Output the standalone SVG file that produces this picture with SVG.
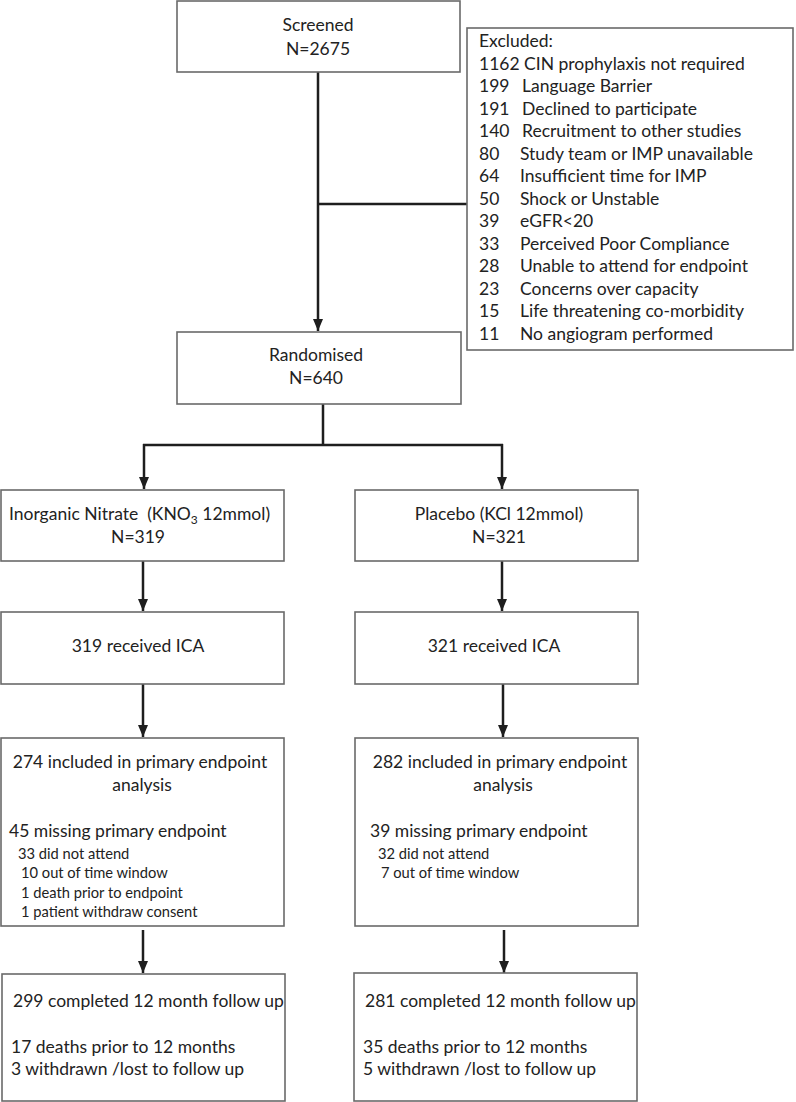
<svg xmlns="http://www.w3.org/2000/svg" width="796" height="1102" viewBox="0 0 796 1102">
<style>
.box{fill:#fff;stroke:#6a6a6a;stroke-width:1.6}
.t{font-family:Lato,"Open Sans","Liberation Sans",sans-serif;font-size:17.5px;fill:#222;white-space:pre}
.s{font-family:Lato,"Open Sans","Liberation Sans",sans-serif;font-size:14.7px;fill:#222;white-space:pre}
.m{text-anchor:middle}
.c{fill:none;stroke:#1e1e1e;stroke-width:2.5}
</style>
<defs>
<marker id="ad" markerUnits="userSpaceOnUse" markerWidth="11" markerHeight="12" viewBox="0 0 11 12" refX="5.5" refY="12">
<path d="M0.5,0 L10.5,0 L5.5,12 Z" fill="#1e1e1e"/>
</marker>
</defs>
<rect width="796" height="1102" fill="#fff"/>
<g id="connectors">
<path class="c" d="M318,72 V331" marker-end="url(#ad)"/>
<path class="c" d="M318,204 H467"/>
<path class="c" d="M323,404 V445 M143,445 H503"/>
<path class="c" d="M144,444 V489" marker-end="url(#ad)"/>
<path class="c" d="M502,444 V489" marker-end="url(#ad)"/>
<path class="c" d="M143,561 V611" marker-end="url(#ad)"/>
<path class="c" d="M502,561 V611" marker-end="url(#ad)"/>
<path class="c" d="M143,684 V737" marker-end="url(#ad)"/>
<path class="c" d="M503,684 V737" marker-end="url(#ad)"/>
<path class="c" d="M143,930 V973" marker-end="url(#ad)"/>
<path class="c" d="M504,930 V973" marker-end="url(#ad)"/>
</g>
<g id="screened">
<rect class="box" x="177" y="1" width="283" height="71"/>
<text class="t m" x="318" y="31">Screened</text>
<text class="t m" x="318" y="55">N=2675</text>
</g>
<g id="excluded">
<rect class="box" x="467" y="28" width="326" height="322"/>
<text class="t" x="479" y="47">Excluded:</text>
<text class="t" x="479" y="69.5">1162 CIN prophylaxis not required</text>
<text class="t" x="479" y="92">199</text><text class="t" x="522" y="92">Language Barrier</text>
<text class="t" x="479" y="114.5">191</text><text class="t" x="522" y="114.5">Declined to participate</text>
<text class="t" x="479" y="137">140</text><text class="t" x="522" y="137">Recruitment to other studies</text>
<text class="t" x="479" y="159.5">80</text><text class="t" x="520" y="159.5">Study team or IMP unavailable</text>
<text class="t" x="479" y="182">64</text><text class="t" x="520" y="182">Insufficient time for IMP</text>
<text class="t" x="479" y="204.5">50</text><text class="t" x="520" y="204.5">Shock or Unstable</text>
<text class="t" x="479" y="227">39</text><text class="t" x="520" y="227">eGFR&lt;20</text>
<text class="t" x="479" y="249.5">33</text><text class="t" x="520" y="249.5">Perceived Poor Compliance</text>
<text class="t" x="479" y="272">28</text><text class="t" x="520" y="272">Unable to attend for endpoint</text>
<text class="t" x="479" y="294.5">23</text><text class="t" x="520" y="294.5">Concerns over capacity</text>
<text class="t" x="479" y="317">15</text><text class="t" x="520" y="317">Life threatening co-morbidity</text>
<text class="t" x="479" y="339.5">11</text><text class="t" x="520" y="339.5">No angiogram performed</text>
</g>
<g id="randomised">
<rect class="box" x="177" y="332" width="284" height="72"/>
<text class="t m" x="316" y="361">Randomised</text>
<text class="t m" x="316" y="384">N=640</text>
</g>
<g id="nitrate">
<rect class="box" x="1" y="490" width="283" height="71"/>
<text class="t" x="9" y="520">Inorganic Nitrate  (KNO<tspan font-size="12" dy="4">3</tspan><tspan dy="-4"> 12mmol)</tspan></text>
<text class="t m" x="138" y="543">N=319</text>
</g>
<g id="placebo">
<rect class="box" x="355" y="490" width="283" height="71"/>
<text class="t m" x="499" y="520">Placebo (KCl 12mmol)</text>
<text class="t m" x="499" y="543">N=321</text>
</g>
<g id="ica-left">
<rect class="box" x="1" y="612" width="283" height="72"/>
<text class="t m" x="138" y="652">319 received ICA</text>
</g>
<g id="ica-right">
<rect class="box" x="355" y="612" width="283" height="72"/>
<text class="t m" x="494" y="652">321 received ICA</text>
</g>
<g id="primary-left">
<rect class="box" x="1" y="738" width="283" height="188"/>
<text class="t m" x="140" y="768">274 included in primary endpoint</text>
<text class="t m" x="142" y="791">analysis</text>
<text class="t" x="9" y="837">45 missing primary endpoint</text>
<text class="s" x="18" y="859">33 did not attend</text>
<text class="s" x="21" y="878">10 out of time window</text>
<text class="s" x="21" y="898">1 death prior to endpoint</text>
<text class="s" x="21" y="917">1 patient withdraw consent</text>
</g>
<g id="primary-right">
<rect class="box" x="355" y="738" width="283" height="188"/>
<text class="t m" x="500" y="768">282 included in primary endpoint</text>
<text class="t m" x="503" y="791">analysis</text>
<text class="t" x="370" y="837">39 missing primary endpoint</text>
<text class="s" x="378" y="859">32 did not attend</text>
<text class="s" x="381" y="878">7 out of time window</text>
</g>
<g id="followup-left">
<rect class="box" x="2" y="974" width="283" height="127"/>
<text class="t" x="13" y="1007">299 completed 12 month follow up</text>
<text class="t" x="11" y="1053">17 deaths prior to 12 months</text>
<text class="t" x="11" y="1075">3 withdrawn /lost to follow up</text>
</g>
<g id="followup-right">
<rect class="box" x="354" y="973" width="283" height="128"/>
<text class="t" x="365" y="1007">281 completed 12 month follow up</text>
<text class="t" x="363" y="1053">35 deaths prior to 12 months</text>
<text class="t" x="363" y="1075">5 withdrawn /lost to follow up</text>
</g>
</svg>
